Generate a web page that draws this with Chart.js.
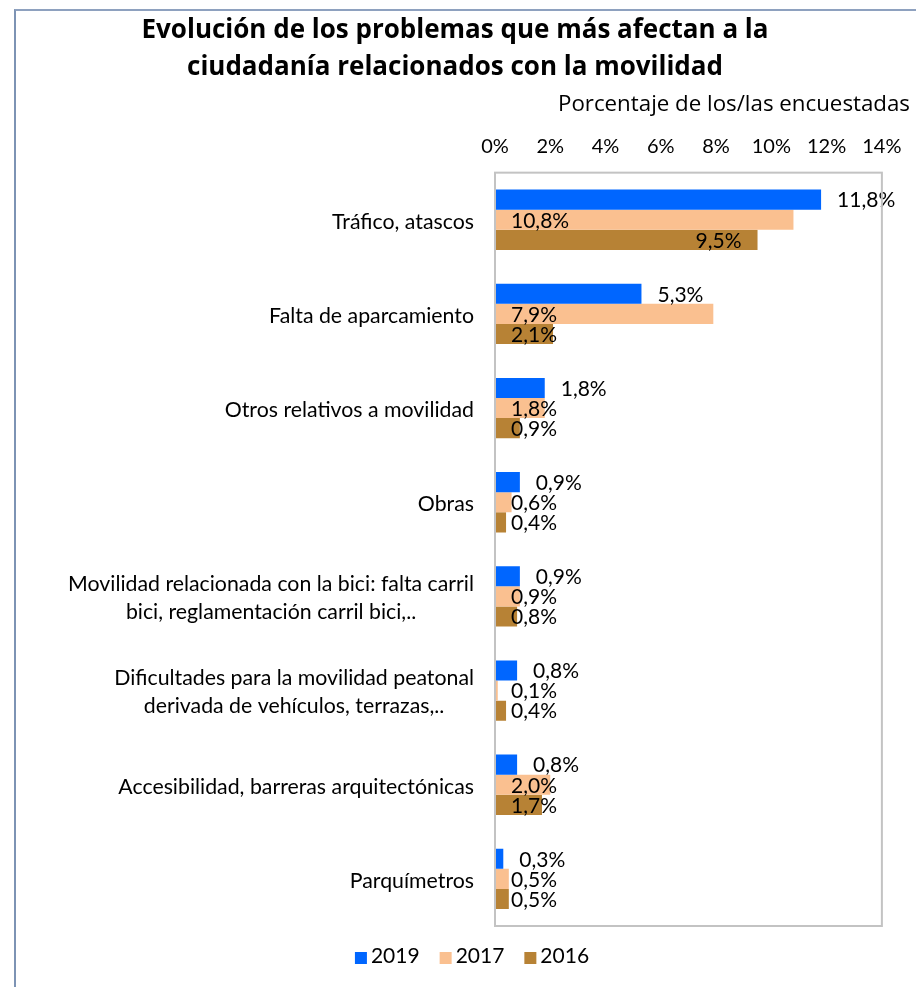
<!DOCTYPE html>
<html>
<head>
<meta charset="utf-8">
<script src="https://cdn.jsdelivr.net/npm/chart.js@4.4.1/dist/chart.umd.min.js"></script>
<style>
  html, body { margin: 0; padding: 0; background: #ffffff; }
  #wrap { position: relative; width: 916px; height: 987px; overflow: hidden; }
  #frame { position: absolute; left: 14px; top: 9px; width: 1200px; height: 1200px;
           border-left: 2px solid #7d93b4; border-top: 2px solid #8ea1bf; box-sizing: border-box; }
  canvas { position: absolute; left: 0; top: 0; }
</style>
</head>
<body>
<div id="wrap">
  <div id="frame"></div>
  <canvas id="chart" width="916" height="987"></canvas>
</div>
<script>
// Problem categories (multi-line labels are arrays of lines)
const categories = [
  ['Tráfico, atascos'],
  ['Falta de aparcamiento'],
  ['Otros relativos a movilidad'],
  ['Obras'],
  ['Movilidad relacionada con la bici: falta carril', 'bici, reglamentación carril bici,..'],
  ['Dificultades para la movilidad peatonal', 'derivada de vehículos, terrazas,..'],
  ['Accesibilidad, barreras arquitectónicas'],
  ['Parquímetros']
];

// Percentage of respondents per survey year
const values2019 = [11.8, 5.3, 1.8, 0.9, 0.9, 0.8, 0.8, 0.3];
const values2017 = [10.8, 7.9, 1.8, 0.6, 0.9, 0.1, 2.0, 0.5];
const values2016 = [9.5, 2.1, 0.9, 0.4, 0.8, 0.4, 1.7, 0.5];

const seriesNames = ['2019', '2017', '2016'];
const seriesColors = ['#0066ff', '#fac090', '#b78235'];

// X axis ticks (percent)
const xTickValues = [0, 2, 4, 6, 8, 10, 12, 14];

const titleLines = ['Evolución de los problemas que más afectan a la', 'ciudadanía relacionados con la movilidad'];
const axisTitle = 'Porcentaje de los/las encuestadas';

const FONT = 'Lato, "Open Sans", sans-serif';
const TITLE_FONT = '"Open Sans", Lato, sans-serif';
const fmt = v => v.toFixed(1).replace('.', ',') + '%';

// Value labels next to / inside the bars
const barLabels = {
  id: 'barLabels',
  afterDatasetsDraw(chart) {
    const ctx = chart.ctx;
    ctx.save();
    ctx.font = '21px ' + FONT;
    ctx.fillStyle = '#000000';
    ctx.textBaseline = 'middle';
    chart.data.datasets.forEach((ds, di) => {
      const meta = chart.getDatasetMeta(di);
      meta.data.forEach((bar, i) => {
        const txt = fmt(ds.data[i]);
        const mode = ds.labelPlace[i];
        let x, align;
        if (mode === 'outside') { x = bar.x + 16; align = 'left'; }
        else if (mode === 'end') { x = bar.x - 16; align = 'right'; }
        else { x = bar.base + 16; align = 'left'; }
        ctx.textAlign = align;
        ctx.fillText(txt, x, bar.y + 1);
      });
    });
    ctx.restore();
  }
};

// Category labels: each block right-aligned to the axis, lines centred within the block
const categoryLabels = {
  id: 'categoryLabels',
  afterDraw(chart) {
    const ctx = chart.ctx;
    const yScale = chart.scales.y;
    const right = chart.chartArea.left - 21;
    const lh = 28;
    ctx.save();
    ctx.font = '21.3px ' + FONT;
    ctx.fillStyle = '#000000';
    ctx.textBaseline = 'middle';
    ctx.textAlign = 'center';
    categories.forEach((lines, i) => {
      const y = yScale.getPixelForValue(i);
      const w = Math.max(...lines.map(l => ctx.measureText(l).width));
      const cx = right - w / 2;
      const y0 = y - (lines.length - 1) * lh / 2 + 2;
      lines.forEach((l, k) => ctx.fillText(l, cx, y0 + k * lh));
    });
    ctx.restore();
  }
};

// Grey border round the plot area
const plotBorder = {
  id: 'plotBorder',
  afterDraw(chart) {
    const { left, top, right, bottom } = chart.chartArea;
    const ctx = chart.ctx;
    ctx.save();
    ctx.strokeStyle = '#c3c3c3';
    ctx.lineWidth = 2;
    ctx.strokeRect(left, top, right - left, bottom - top);
    ctx.restore();
  }
};

// Legend row under the plot: small squares followed by the series name
const bottomLegend = {
  id: 'bottomLegend',
  afterDraw(chart) {
    const ctx = chart.ctx;
    const box = 12, gap = 4, itemGap = 20;
    const cx = chart.width / 2 + 14;
    const cy = chart.chartArea.bottom + 30;
    ctx.save();
    ctx.font = '21px ' + FONT;
    ctx.textBaseline = 'middle';
    ctx.textAlign = 'left';
    const items = chart.data.datasets.map(ds => ({ text: ds.label, color: ds.backgroundColor, w: ctx.measureText(ds.label).width }));
    const total = items.reduce((s, it) => s + box + gap + it.w, 0) + itemGap * (items.length - 1);
    let x = cx - total / 2;
    items.forEach(it => {
      ctx.fillStyle = it.color;
      ctx.fillRect(x, cy - box / 2 + 2, box, box);
      ctx.fillStyle = '#000000';
      ctx.fillText(it.text, x + box + gap, cy);
      x += box + gap + it.w + itemGap;
    });
    ctx.restore();
  }
};

const labelsFor2019 = values2019.map(() => 'outside');
const labelsFor2017 = values2017.map(() => 'start');
const labelsFor2016 = values2016.map((v, i) => i === 0 ? 'end' : 'start');

new Chart(document.getElementById('chart'), {
  type: 'bar',
  data: {
    labels: categories.map(c => c.join(' ')),
    datasets: [
      { label: seriesNames[0], data: values2019, backgroundColor: seriesColors[0], labelPlace: labelsFor2019 },
      { label: seriesNames[1], data: values2017, backgroundColor: seriesColors[1], labelPlace: labelsFor2017 },
      { label: seriesNames[2], data: values2016, backgroundColor: seriesColors[2], labelPlace: labelsFor2016 }
    ]
  },
  options: {
    indexAxis: 'y',
    responsive: false,
    animation: false,
    devicePixelRatio: 1,
    categoryPercentage: 0.64,
    barPercentage: 1.0,
    layout: { padding: { top: 0, right: 6, bottom: 61, left: 0 } },
    plugins: {
      title: {
        display: true,
        text: titleLines,
        color: '#000000',
        font: { family: TITLE_FONT, size: 26, weight: 'bold', lineHeight: 1.4 },
        padding: { top: 12.5, bottom: 0 }
      },
      subtitle: {
        display: true,
        text: axisTitle,
        align: 'end',
        color: '#000000',
        font: { family: TITLE_FONT, size: 22.3, lineHeight: 1.2 },
        padding: { top: 6.1, bottom: 1.5 }
      },
      legend: { display: false },
      tooltip: { enabled: false }
    },
    scales: {
      x: {
        position: 'top',
        min: 0,
        max: 14,
        afterBuildTicks: s => { s.ticks = xTickValues.map(v => ({ value: v })); },
        ticks: {
          color: '#000000',
          font: { family: FONT, size: 20, lineHeight: 1.2 },
          padding: 14.5,
          callback: v => v + '%'
        },
        grid: { display: false, drawTicks: false },
        border: { display: false }
      },
      y: {
        position: 'left',
        ticks: { display: false },
        grid: { display: false, drawTicks: false },
        border: { display: false },
        afterFit: s => { s.width = 495; }
      },
      yRight: {
        position: 'right',
        type: 'linear',
        display: true,
        ticks: { display: false },
        grid: { display: false, drawTicks: false },
        border: { display: false },
        afterFit: s => { s.width = 28; }
      }
    }
  },
  plugins: [plotBorder, barLabels, categoryLabels, bottomLegend]
});
</script>
</body>
</html>
